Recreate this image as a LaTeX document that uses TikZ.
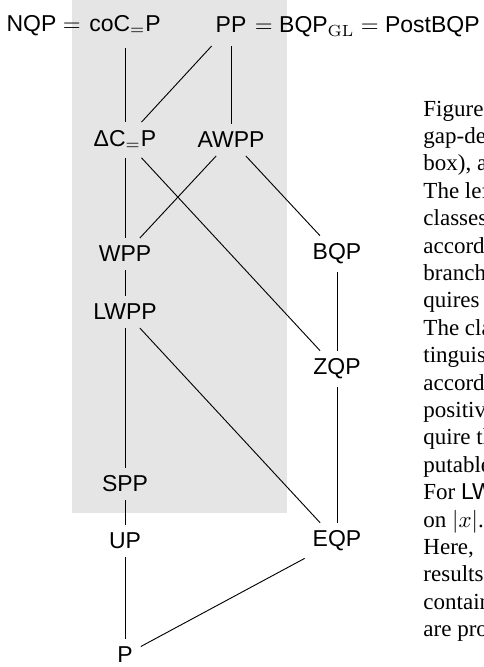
\documentclass[tikz,border=0pt]{standalone}
\usepackage{amsmath}
\usepackage{amssymb}
\usepackage[no-math]{fontspec}
\setmainfont{Liberation Serif}
\setsansfont{Liberation Sans}
\usepackage{tikz}

\begin{document}
\begin{tikzpicture}[x=0.435pt, y=-0.435pt,
  cls/.style={font=\sffamily},
  toprow/.style={cls, inner ysep=5.5pt},
  capline/.style={font=\rmfamily, anchor=base west, inner sep=0pt}]
\clip (0,0) rectangle (484,667);
\fill[gray!20] (72,0) rectangle (287,513);

\node[toprow] (coc) at (125, 25) {coC$_=$P};
\node[cls, anchor=base east, inner sep=0pt] (nqp) at (coc.base west) {NQP $=$};
\node[toprow] (pp) at (231, 25) {PP};
\node[cls, anchor=base west, inner sep=0pt] (postbqp) at (pp.base east) {$=$ BQP$_{\mathrm{GL}}$ $=$ PostBQP};

\node[cls] (dcp) at (125, 140) {ΔC$_=$P};
\node[cls] (awpp) at (231, 140) {AWPP};
\node[cls] (wpp) at (125, 254) {WPP};
\node[cls] (bqp) at (337, 254) {BQP};
\node[cls] (lwpp) at (125, 312) {LWPP};
\node[cls] (zqp) at (337, 369) {ZQP};
\node[cls] (spp) at (125, 484) {SPP};
\node[cls] (up) at (125, 541) {UP};
\node[cls] (eqp) at (337, 541) {EQP};
\node[cls] (p) at (125, 655) {P};

\draw (coc) -- (dcp);
\draw (pp) -- (dcp);
\draw (pp) -- (awpp);
\draw (dcp) -- (wpp);
\draw (dcp) -- (zqp);
\draw (awpp) -- (wpp);
\draw (awpp) -- (bqp);
\draw (wpp) -- (lwpp);
\draw (bqp) -- (zqp);
\draw (lwpp) -- (spp);
\draw (lwpp) -- (eqp);
\draw (zqp) -- (eqp);
\draw (spp) -- (up);
\draw (up) -- (p);
\draw (p) -- (eqp);

% text beside the figure
\foreach \txt [count=\i] in {Figure 1:, gap-definable, {box), and}, The left, classes, according,
    branches, quires, The classes, tinguished, according, positive, quire the, putable,
    For \textsf{LWPP}, on $|x|$., {Here,}, results, contain, are proper}
  \node[capline] (cap\i) at (423, 116+27.4*\i-27.4) {\txt};
\end{tikzpicture}
\end{document}
